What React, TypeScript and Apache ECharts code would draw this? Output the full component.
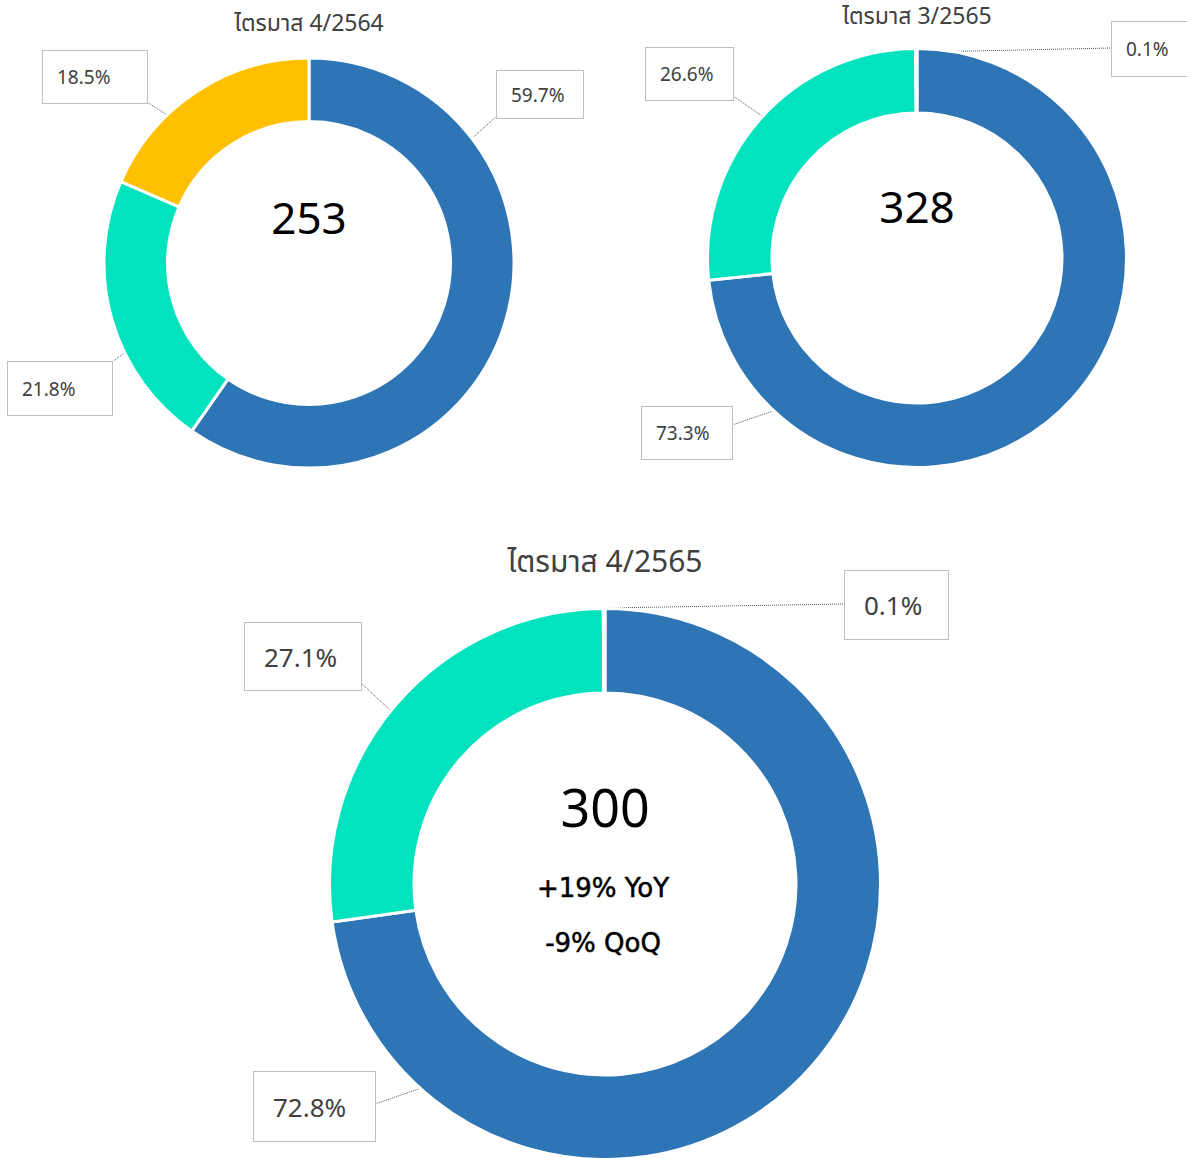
import React, { useEffect, useRef } from 'react';
import * as echarts from 'echarts';

// ---- data ----
const categories = ['Segment A', 'Segment B', 'Segment C'];
const segmentColors = ['#2E75B6', '#00E3BE', '#FFC000'];
const quarterTitles = ['ไตรมาส 4/2564', 'ไตรมาส 3/2565', 'ไตรมาส 4/2565'];
const quarterTotals = [253, 328, 300];
const shareQ4_2564 = [59.7, 21.8, 18.5];
const shareQ3_2565 = [73.3, 26.6, 0.1];
const shareQ4_2565 = [72.8, 27.1, 0.1];
const growthLines = ['+19% YoY', '-9% QoQ'];

const shares = [shareQ4_2564, shareQ3_2565, shareQ4_2565];

// ---- layout (positions / sizes only) ----
type Panel = {
  cx: number; cy: number; radius: [number, number];
  titleY: number; titleSize: number;
  totalY: number; totalSize: number;
  labelSize: number; padX: number;
  boxes: number[][]; // [left, top, width, height] per slice
  lines: number[][][]; // label line points per slice
};

const panels: Panel[] = [
  {
    cx: 309, cy: 263, radius: [141.5, 205],
    titleY: 24, titleSize: 23, totalY: 217, totalSize: 44,
    labelSize: 19, padX: 14,
    boxes: [[497, 71, 86, 47], [8, 362, 104, 53], [43, 51, 104, 52]],
    lines: [[[497, 116], [470, 140]], [[112, 362], [127, 351]], [[147, 102], [170, 117]]],
  },
  {
    cx: 917, cy: 258, radius: [145, 209.5],
    titleY: 17, titleSize: 23, totalY: 206, totalSize: 44,
    labelSize: 19, padX: 14,
    boxes: [[642, 407, 90, 52], [646, 48, 87, 52], [1112, 22, 80, 54]],
    lines: [[[732, 425], [776, 410]], [[733, 96], [765, 118]], [[1112, 48], [926, 52]]],
  },
  {
    cx: 605, cy: 884, radius: [191, 275.5],
    titleY: 563, titleSize: 30, totalY: 806, totalSize: 52,
    labelSize: 26, padX: 19,
    boxes: [[254, 1072, 121, 69], [245, 623, 116, 67], [845, 571, 103, 68]],
    lines: [[[375, 1104], [430, 1085]], [[361, 683], [390, 710]], [[845, 604], [605, 608]]],
  },
];

const LABEL_FONT = '"Noto Sans", "DejaVu Sans", sans-serif';
const THAI_FONT = '"Noto Sans Thai", "Noto Sans Thai UI", "Loma", "Garuda", "Tlwg Typo", "Noto Sans", "DejaVu Sans", sans-serif';

export default function App() {
  const ref = useRef<HTMLDivElement>(null);

  useEffect(() => {
    document.body.style.margin = '0';
    if (!ref.current) return;
    const chart = echarts.init(ref.current, null, { renderer: 'svg' });

    const series = panels.map((p, k) => ({
      type: 'pie',
      center: [p.cx, p.cy],
      radius: p.radius,
      startAngle: 90,
      clockwise: true,
      avoidLabelOverlap: false,
      silent: true,
      emphasis: { disabled: true },
      itemStyle: { borderColor: '#ffffff', borderWidth: 3 },
      data: shares[k].map((v, i) => ({
        name: categories[i],
        value: v,
        itemStyle: { color: segmentColors[i] },
        label: {
          width: p.boxes[i][2] - 2 * p.padX,
          height: p.boxes[i][3],
          lineHeight: p.boxes[i][3],
        },
      })),
      label: {
        show: true,
        position: 'outside',
        formatter: (prm: any) => Number(prm.value).toFixed(1) + '%',
        color: '#404040',
        fontSize: p.labelSize,
        fontFamily: LABEL_FONT,
        backgroundColor: '#ffffff',
        borderColor: '#bfbfbf',
        borderWidth: 1,
        padding: [0, p.padX],
        align: 'left',
        overflow: 'none',
      },
      labelLine: {
        show: true,
        length: 10,
        length2: 10,
        lineStyle: { color: '#555555', width: 1, type: 'dotted' },
      },
      labelLayout: (params: any) => {
        const b = p.boxes[params.dataIndex];
        return {
          x: b[0],
          y: b[1],
          align: 'left',
          verticalAlign: 'top',
          width: b[2] - 2 * p.padX,
          height: b[3],
          labelLinePoints: p.lines[params.dataIndex],
        };
      },
    }));

    const graphics: any[] = [];
    panels.forEach((p, k) => {
      graphics.push({
        type: 'text',
        x: p.cx,
        y: p.titleY,
        silent: true,
        style: {
          text: quarterTitles[k],
          fill: '#404040',
          fontSize: p.titleSize,
          fontFamily: THAI_FONT,
          align: 'center',
          verticalAlign: 'middle',
        },
      });
      graphics.push({
        type: 'text',
        x: p.cx,
        y: p.totalY,
        silent: true,
        style: {
          text: String(quarterTotals[k]),
          fill: '#000000',
          fontSize: p.totalSize,
          fontFamily: LABEL_FONT,
          align: 'center',
          verticalAlign: 'middle',
        },
      });
    });
    growthLines.forEach((t, i) => {
      graphics.push({
        type: 'text',
        x: 603,
        y: 888 + i * 55,
        silent: true,
        style: {
          text: t,
          fill: '#000000',
          fontSize: 26,
          fontFamily: '"DejaVu Sans", sans-serif',
          align: 'center',
          verticalAlign: 'middle',
          stroke: '#000000',
          lineWidth: 0.5,
        },
      });
    });

    chart.setOption({
      animation: false,
      backgroundColor: '#ffffff',
      series,
      graphic: { elements: graphics },
    } as any);

    return () => chart.dispose();
  }, []);

  return <div ref={ref} style={{ width: 1187, height: 1158 }} />;
}
